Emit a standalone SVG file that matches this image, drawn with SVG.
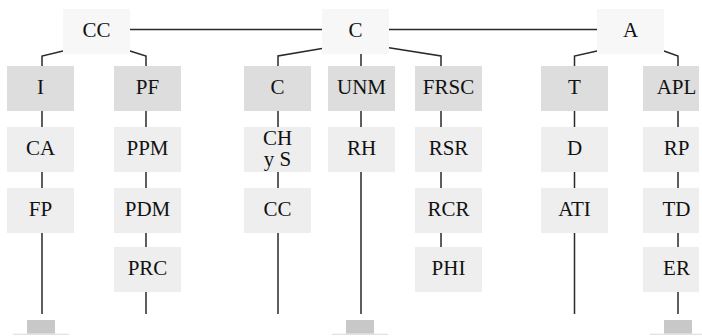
<svg xmlns="http://www.w3.org/2000/svg" width="702" height="336" viewBox="0 0 702 336">
<style>
.top{fill:#f7f7f7}
.hd{fill:#dddddd}
.bx{fill:#eeeeee}
text{font-family:"Liberation Serif","Times New Roman",serif;font-size:21px;fill:#111;text-anchor:middle}
.ln{fill:none;stroke:#2a2a2a;stroke-width:1.5}
.ar{fill:#c8c8c8}
</style>
<rect width="702" height="336" fill="#ffffff"/>
<g id="connectors" class="ln">
<path d="M130,29.5H322M389,29.5H597"/>
<path d="M63,51L42,56V66M130,51L146,56V66"/>
<path d="M322,48.5L278,56V66M361,54V66M389,47.7L441,56V66"/>
<path d="M597,51L574.5,56V66M664,51L678,56V66"/>
<path d="M42,111V127M42,172V188M42,233V314"/>
<path d="M146,111V127M146,172V188M146,233V247M146,292V314"/>
<path d="M278,111V127M278,172V188M278,233V314"/>
<path d="M361,111V127M361,172V314"/>
<path d="M441,111V127M441,172V188M441,233V247"/>
<path d="M574.5,111V127M574.5,172V188M574.5,233V314"/>
<path d="M678,111V127M678,172V188M678,233V247M678,292V314"/>
</g>
<g id="arrows">
<rect class="ar" x="27" y="320" width="28" height="13.7"/>
<rect x="13" y="333.7" width="56" height="1.3" fill="#e2e2e2"/>
<rect class="ar" x="346" y="320" width="28" height="13.7"/>
<rect x="332" y="333.7" width="56" height="1.3" fill="#e2e2e2"/>
<rect class="ar" x="664" y="320" width="28" height="13.7"/>
<rect x="650" y="333.7" width="52" height="1.3" fill="#e2e2e2"/>
</g>
<g id="n-CC"><rect class="top" x="63" y="9" width="67" height="45"/><text x="96.5" y="37">CC</text></g>
<g id="n-C"><rect class="top" x="322" y="9" width="67" height="45"/><text x="355.5" y="37">C</text></g>
<g id="n-A"><rect class="top" x="597" y="9" width="67" height="45"/><text x="630.5" y="37">A</text></g>

<g id="n-I"><rect class="hd" x="7" y="66" width="67" height="45"/><text x="40.5" y="94">I</text></g>
<g id="n-CA"><rect class="bx" x="7" y="127" width="67" height="45"/><text x="40.5" y="155">CA</text></g>
<g id="n-FP"><rect class="bx" x="7" y="188" width="67" height="45"/><text x="40.5" y="216">FP</text></g>

<g id="n-PF"><rect class="hd" x="114" y="66" width="67" height="45"/><text x="147.5" y="94">PF</text></g>
<g id="n-PPM"><rect class="bx" x="114" y="127" width="67" height="45"/><text x="147.5" y="155">PPM</text></g>
<g id="n-PDM"><rect class="bx" x="114" y="188" width="67" height="45"/><text x="147.5" y="216">PDM</text></g>
<g id="n-PRC"><rect class="bx" x="114" y="247" width="67" height="45"/><text x="147.5" y="275">PRC</text></g>

<g id="n-C2"><rect class="hd" x="244" y="66" width="67" height="45"/><text x="277.5" y="94">C</text></g>
<g id="n-CHyS"><rect class="bx" x="244" y="127" width="67" height="45"/><text x="277.5" y="144.5">CH</text><text x="277.5" y="165.5">y S</text></g>
<g id="n-CC2"><rect class="bx" x="244" y="188" width="67" height="45"/><text x="277.5" y="216">CC</text></g>

<g id="n-UNM"><rect class="hd" x="328" y="66" width="67" height="45"/><text x="361.5" y="94">UNM</text></g>
<g id="n-RH"><rect class="bx" x="328" y="127" width="67" height="45"/><text x="361.5" y="155">RH</text></g>

<g id="n-FRSC"><rect class="hd" x="415" y="66" width="67" height="45"/><text x="448.5" y="94">FRSC</text></g>
<g id="n-RSR"><rect class="bx" x="415" y="127" width="67" height="45"/><text x="448.5" y="155">RSR</text></g>
<g id="n-RCR"><rect class="bx" x="415" y="188" width="67" height="45"/><text x="448.5" y="216">RCR</text></g>
<g id="n-PHI"><rect class="bx" x="415" y="247" width="67" height="45"/><text x="448.5" y="275">PHI</text></g>

<g id="n-T"><rect class="hd" x="541" y="66" width="67" height="45"/><text x="574.5" y="94">T</text></g>
<g id="n-D"><rect class="bx" x="541" y="127" width="67" height="45"/><text x="574.5" y="155">D</text></g>
<g id="n-ATI"><rect class="bx" x="541" y="188" width="67" height="45"/><text x="574.5" y="216">ATI</text></g>

<g id="n-APL"><rect class="hd" x="643" y="66" width="56" height="45"/><text x="676.5" y="94">APL</text></g>
<g id="n-RP"><rect class="bx" x="643" y="127" width="56" height="45"/><text x="676.5" y="155">RP</text></g>
<g id="n-TD"><rect class="bx" x="643" y="188" width="56" height="45"/><text x="676.5" y="216">TD</text></g>
<g id="n-ER"><rect class="bx" x="643" y="247" width="56" height="45"/><text x="676.5" y="275">ER</text></g>
</svg>
